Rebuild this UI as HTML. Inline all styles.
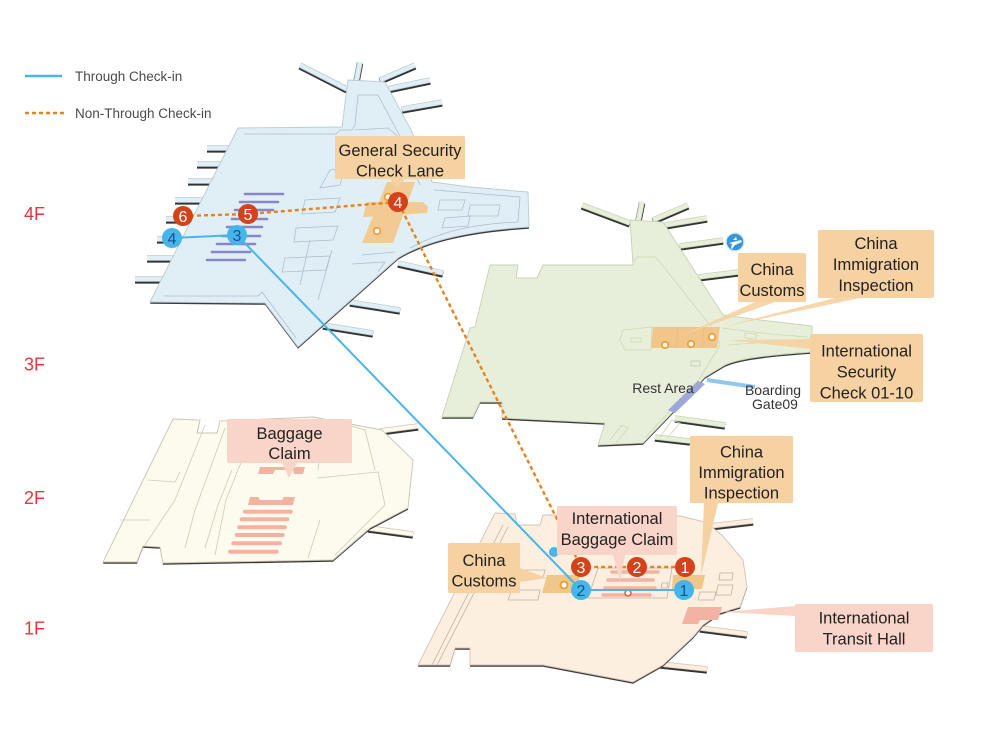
<!DOCTYPE html>
<html><head><meta charset="utf-8"><style>
html,body{margin:0;padding:0;background:#fff;}
svg{display:block;}
text{font-family:"Liberation Sans",sans-serif;}
</style></head><body>
<svg width="990" height="745" viewBox="0 0 990 745" xmlns="http://www.w3.org/2000/svg">
<defs>
<path id="f4" d="M238,128 L342,127 L348,80 L385,82 L411,130 L432,182 L470,187 L528,192 L529,227 C480,230 430,238 398,258 L298,347 L265,303 L150,302 Z"/>
<path id="p4" d="M207,148 L238,148 M197,164 L228,164 M188,181 L220,181 M175,200 L205,200 M166,219 L196,219 M157,239 L186,239 M147,258 L176,258 M135,279 L165,279 M300,65 L347,89 M360,62 L356,83 M415,65 L380,80 M430,80 L387,89 M442,102 L402,109 M398,263 L443,273 M350,302 L400,310 M323,325 L373,333"/>
<path id="f3" d="M490,265 L518,265 L516,278 L537,278 L543,265 L633,265 L630,220 L663,222 L723,315 L760,320 L812,326 L812,352 C770,355 740,358 725,365 L705,377 L670,415 L643,443 L598,445 L605,423 L502,418 L502,402 L480,402 L473,417 L442,417 L463,350 L470,328 L475,327 Z"/>
<path id="p3" d="M582,205 L630,223 M642,202 L638,222 M688,205 L653,220 M707,218 L665,225 M723,240 L680,246 M738,272 L698,277 M725,425 L675,418 M690,441 L655,437"/>
<path id="f2" d="M173,419 L200,420 L197,433 L217,433 L220,421 L313,417 L382,430 L413,460 L408,508 L370,528 L333,560 L163,563 L160,547 L143,546 L137,562 L103,562 Z"/>
<path id="p2" d="M380,431 L418,426 M368,528 L413,534"/>
<path id="f1" d="M495,513 L515,514 L517,525 L540,525 L543,515 L680,516 L705,522 L722,535 L743,560 L747,587 L740,607 L720,613 L703,625 L693,637 L663,665 L633,682 L543,665 L470,665 L470,648 L455,648 L450,665 L418,665 Z"/>
<path id="p1" d="M710,526 L753,521 M700,628 L747,634 M660,664 L707,669"/>
</defs>

<!-- Legend -->
<line x1="25" y1="76" x2="62" y2="76" stroke="#4ab5e6" stroke-width="2.5"/>
<text x="75" y="81" font-size="13.5" fill="#4a4a4a">Through Check-in</text>
<line x1="25" y1="113" x2="64" y2="113" stroke="#e8821e" stroke-width="2.5" stroke-dasharray="4 3"/>
<text x="75" y="118" font-size="13.5" fill="#4a4a4a">Non-Through Check-in</text>

<!-- Floor labels -->
<g font-size="18" fill="#e8343c">
<text x="24" y="220">4F</text>
<text x="24" y="370.5">3F</text>
<text x="24" y="504">2F</text>
<text x="24" y="634.5">1F</text>
</g>

<!-- ===== 2F ===== -->
<g fill="none" stroke-linecap="butt">
<use href="#p2" stroke="#333" stroke-width="6.5" transform="translate(0,1.4)"/>
<use href="#p2" stroke="#c9c5b2" stroke-width="5.5"/>
<use href="#p2" stroke="#fdfbee" stroke-width="4"/>
</g>
<use href="#f2" fill="#3a3a3a" transform="translate(0,1.8)"/>
<use href="#f2" fill="#fdfbee" stroke="#c9c5b2" stroke-width="0.9"/>
<g fill="none" stroke="#cfcab6" stroke-width="0.8">
<path d="M148,480 L175,482 L180,472 M120,520 L150,520 M205,425 L175,500 L145,545"/>
<path d="M225,428 L195,510 L185,548 M232,470 L218,505 L205,548"/>
<path d="M255,430 L238,470 L226,500 L215,555 M320,520 L308,558"/>
<path d="M317,478 L378,472 L385,505 L365,525 L335,555"/>
<path d="M318,470 L320,450 L345,432 M330,420 L365,430 L375,470"/>
</g>
<!-- 2F stripes -->
<g fill="#f3b3a2">
<path d="M260,467 L305,467 L303,474 L294,474 L293,470 L275,470 L273,474 L258,474 Z"/>
<path d="M250,497 L258,497 L260,500 L282,500 L284,497 L295,497 L293,505 L248,505 Z"/>
</g>
<g stroke="#f3b3a2" stroke-width="4" stroke-linecap="round">
<line x1="245" y1="511.7" x2="290.7" y2="511.7"/>
<line x1="241.7" y1="519.3" x2="287.3" y2="519.3"/>
<line x1="239.3" y1="527.3" x2="285" y2="527.3"/>
<line x1="236.7" y1="535" x2="282.7" y2="535"/>
<line x1="233.3" y1="543.3" x2="280" y2="543.3"/>
<line x1="230" y1="551.7" x2="276.7" y2="551.7"/>
</g>

<!-- ===== 1F ===== -->
<g fill="none">
<use href="#p1" stroke="#333" stroke-width="6.5" transform="translate(0,1.4)"/>
<use href="#p1" stroke="#d3c3b2" stroke-width="5.5"/>
<use href="#p1" stroke="#fcefe0" stroke-width="4"/>
</g>
<use href="#f1" fill="#3a3a3a" transform="translate(0,1.8)"/>
<use href="#f1" fill="#fcefe0" stroke="#d3c3b2" stroke-width="0.9"/>
<g fill="none" stroke="#bfb2a5" stroke-width="0.8">
<path d="M503,525 L432,665 M508,527 L437,665"/>
<path d="M598,568 L672,568 L667,598 L588,598 Z"/>
<path d="M525,570 L545,570 L543,578 L523,578 Z M512,590 L540,590 L538,600 L508,600 Z"/>
<path d="M720,573 L733,573 L732,580 L719,580 Z M718,585 L733,585 L731,595 L716,595 Z M700,592 L716,592 L714,600 L698,600 Z"/>
<path d="M662,583 L668,583 L667,588 L661,588 Z"/>
</g>
<g fill="#f1c68a">
<path d="M547,575 L580,575 L577,593 L542,593 Z"/>
<path d="M673,575 L705,575 L702,589 L672,589 Z"/>
</g>
<path d="M688,607 L722,607 L718,620 L700,620 L698,624 L682,624 Z" fill="#f3b2a2"/>
<g stroke="#f3b3a2" stroke-width="3.5" stroke-linecap="round">
<line x1="612" y1="572" x2="658" y2="572"/>
<line x1="608" y1="580" x2="653" y2="580"/>
<line x1="605" y1="588" x2="655" y2="588"/>
<line x1="603" y1="595" x2="650" y2="595"/>
</g>
<circle cx="564" cy="585" r="3.5" fill="#fff" stroke="#ef9a2b" stroke-width="1.8"/>
<circle cx="628" cy="593" r="3" fill="#fff" stroke="#e0604a" stroke-width="1.6"/>

<!-- ===== 3F ===== -->
<g fill="none">
<use href="#p3" stroke="#333" stroke-width="6.5" transform="translate(0,1.4)"/>
<use href="#p3" stroke="#c6d3b3" stroke-width="5.5"/>
<use href="#p3" stroke="#e7efda" stroke-width="4"/>
</g>
<use href="#f3" fill="#3a3a3a" transform="translate(0,1.8)"/>
<use href="#f3" fill="#e7efda" stroke="#c6d3b3" stroke-width="0.9"/>
<g fill="none" stroke="#cbd9b5" stroke-width="0.8">
<path d="M634,262 L637,257 L655,257 L660,262 L716,333 L720,345 L700,378 L645,438"/>
<path d="M623,330 L652,327 L651,350 L625,350 L620,340 Z M631,338 L641,338 L641,342 L631,342 Z"/>
<path d="M722,328 L770,334 L808,337 M728,345 L770,342 L808,342 M745,333 L757,334 L756,339 L745,338 Z"/>
<path d="M610,440 L622,425 L628,428 L616,443 M660,437 L672,420 L680,423 L667,438"/>
</g>
<path d="M653,327 L720,327 L717,348 L651,348 Z" fill="#f2c68b"/>
<path d="M678,327 L676,348 M704,327 L702,348" stroke="#e8b878" stroke-width="0.7"/>
<g fill="#fff" stroke="#ef9a2b" stroke-width="1.6">
<circle cx="665" cy="345" r="3.2"/><circle cx="691" cy="344" r="3.2"/><circle cx="712" cy="337" r="3.2"/>
</g>
<path d="M691,361 L700,361 L700,366 L691,366 Z" fill="none" stroke="#b9c5a8" stroke-width="0.7"/>
<path d="M698,381 L705,384 L675,413 L668,410 Z" fill="#9ea8d8"/>
<line x1="707" y1="380" x2="755" y2="387" stroke="#8fc8ec" stroke-width="4"/>
<text x="663" y="393" font-size="14" fill="#333" text-anchor="middle">Rest Area</text>
<text x="773" y="395" font-size="14" fill="#333" text-anchor="middle">Boarding</text>
<text x="775" y="409" font-size="14" fill="#333" text-anchor="middle">Gate09</text>
<circle cx="735" cy="242" r="9" fill="#3a95d8" stroke="#d8ecf8" stroke-width="1.5"/>
<path d="M729,243 L741,240 L742,242 L735,245 L732,249 L731,248 L732,244 Z M733,240 L736,237 L737,240 Z" fill="#fff"/>

<!-- ===== 4F ===== -->
<g fill="none">
<use href="#p4" stroke="#333" stroke-width="6.5" transform="translate(0,1.4)"/>
<use href="#p4" stroke="#bccbd4" stroke-width="5.5"/>
<use href="#p4" stroke="#e0eef6" stroke-width="4"/>
</g>
<use href="#f4" fill="#3a3a3a" transform="translate(0,1.8)"/>
<use href="#f4" fill="#e0eef6" stroke="#bccbd4" stroke-width="0.9"/>
<g fill="none" stroke="#aebdc8" stroke-width="0.75">
<path d="M244,134 L336,134 L340,130 L352,130 L355,125 L358,95 L378,95 L402,140 L420,185"/>
<path d="M164,296 L258,296 L262,292 L296,338"/>
<path d="M355,130 L388,128 L402,140 M345,150 L375,145 M330,170 L345,168 L340,185 L320,188 Z"/>
<path d="M305,200 L340,198 L335,212 L302,214 Z M296,228 L338,226 L333,240 L294,242 Z"/>
<path d="M285,258 L330,256 L326,270 L282,272 Z M300,285 L310,240 M318,300 L332,250"/>
<path d="M434,190 L520,197 L518,222 C470,224 440,232 410,248"/>
<path d="M440,200 L465,200 L462,210 L438,210 Z M470,205 L500,205 L498,216 L468,216 Z M445,218 L470,216 L468,226 L442,228 Z"/>
<path d="M362,255 L395,252 M352,264 L385,262 L378,272"/>
</g>
<g stroke="#8985c9" stroke-width="2.6" stroke-linecap="round">
<line x1="245" y1="194" x2="283" y2="194"/>
<line x1="240" y1="202" x2="278" y2="202"/>
<line x1="235" y1="210" x2="273" y2="210"/>
<line x1="232" y1="219" x2="267" y2="219"/>
<line x1="227" y1="227" x2="262" y2="227"/>
<line x1="222" y1="236" x2="260" y2="236"/>
<line x1="217" y1="244" x2="255" y2="244"/>
<line x1="212" y1="252" x2="250" y2="252"/>
<line x1="207" y1="260" x2="245" y2="260"/>
</g>
<g fill="#f3c98b" opacity="0.92">
<path d="M387,182 L415,182 L393,243 L362,243 Z"/>
<path d="M367,202 L423,202 L428,207 L427,213 L363,217 Z"/>
</g>
<g fill="#fff" stroke="#ef9a2b" stroke-width="1.6">
<circle cx="388" cy="197" r="3.3"/><circle cx="377" cy="231" r="3.3"/>
</g>

<!-- ===== Connectors ===== -->
<polyline points="172,238 237,235 581,590 684,590" fill="none" stroke="#4ab5e6" stroke-width="2"/>
<polyline points="183,216 248,214 398,202 581,567 685,567" fill="none" stroke="#e8821e" stroke-width="2.4" stroke-dasharray="4 3"/>
<circle cx="554" cy="552" r="5" fill="#4ab5e6"/>

<!-- ===== Label boxes ===== -->
<g fill="#f6d1a2">
<rect x="335" y="136" width="130" height="43" rx="1.5"/>
<path d="M390,179 L405,179 L397,188 Z"/>
<path d="M755,302 L775,302 L680,336 Z" opacity="0.9"/>
<path d="M835,298 L860,298 L722,327 Z" opacity="0.9"/>
<path d="M810,339 L810,349 L728,340 Z" opacity="0.9"/>
<rect x="738" y="253" width="68" height="49" rx="1.5"/>
<rect x="818" y="230" width="116" height="68" rx="1.5"/>
<rect x="810" y="334" width="113" height="68" rx="1.5"/>
<path d="M520,568 L520,582 L547,578 Z"/>
<rect x="448" y="543" width="72" height="50" rx="1.5"/>
<path d="M704,503 L718,503 L701,576 Z"/>
<rect x="690" y="436" width="103" height="67" rx="1.5"/>
</g>
<g fill="#f9d4c9">
<rect x="227" y="419" width="125" height="44" rx="1.5"/>
<path d="M282,463 L297,463 L289,478 Z"/>
<rect x="557" y="506" width="120" height="49" rx="1.5"/>
<path d="M613,555 L625,555 L620,581 Z"/>
<path d="M795,606 L795,616 L722,612 Z"/>
<rect x="795" y="604" width="138" height="48" rx="1.5"/>
</g>

<g font-size="16.5" fill="#222" text-anchor="middle">
<text x="400" y="156">General Security</text>
<text x="400" y="176.5">Check Lane</text>
<text x="772" y="275">China</text>
<text x="772" y="296">Customs</text>
<text x="876" y="249">China</text>
<text x="876" y="270">Immigration</text>
<text x="876" y="291">Inspection</text>
<text x="866.5" y="356.5">International</text>
<text x="866.5" y="377.5">Security</text>
<text x="866.5" y="398.5">Check 01-10</text>
<text x="289.5" y="439">Baggage</text>
<text x="289.5" y="459">Claim</text>
<text x="617" y="524">International</text>
<text x="617" y="545">Baggage Claim</text>
<text x="484" y="566">China</text>
<text x="484" y="586.5">Customs</text>
<text x="741.5" y="457.5">China</text>
<text x="741.5" y="478">Immigration</text>
<text x="741.5" y="498.5">Inspection</text>
<text x="864" y="623.5">International</text>
<text x="864" y="644.5">Transit Hall</text>
</g>

<!-- ===== Nodes ===== -->
<g fill="#d4421b">
<circle cx="183" cy="216" r="10"/><circle cx="248" cy="214" r="10"/><circle cx="398" cy="202" r="10"/>
<circle cx="581" cy="567" r="10"/><circle cx="637" cy="567" r="10"/><circle cx="685" cy="567" r="10"/>
</g>
<g fill="#46b6e8">
<circle cx="172" cy="238" r="10"/><circle cx="237" cy="235" r="10"/>
<circle cx="581" cy="590" r="10"/><circle cx="684" cy="590" r="10"/>
</g>
<g font-size="16" fill="#fff" text-anchor="middle">
<text x="183" y="222">6</text><text x="248" y="220">5</text><text x="398" y="208">4</text>
<text x="581" y="573">3</text><text x="637" y="573">2</text><text x="685" y="573">1</text>
</g>
<g font-size="16" fill="#1a4f96" text-anchor="middle">
<text x="172" y="244">4</text><text x="237" y="241">3</text>
<text x="581" y="596">2</text><text x="684" y="596">1</text>
</g>
</svg>
</body></html>
